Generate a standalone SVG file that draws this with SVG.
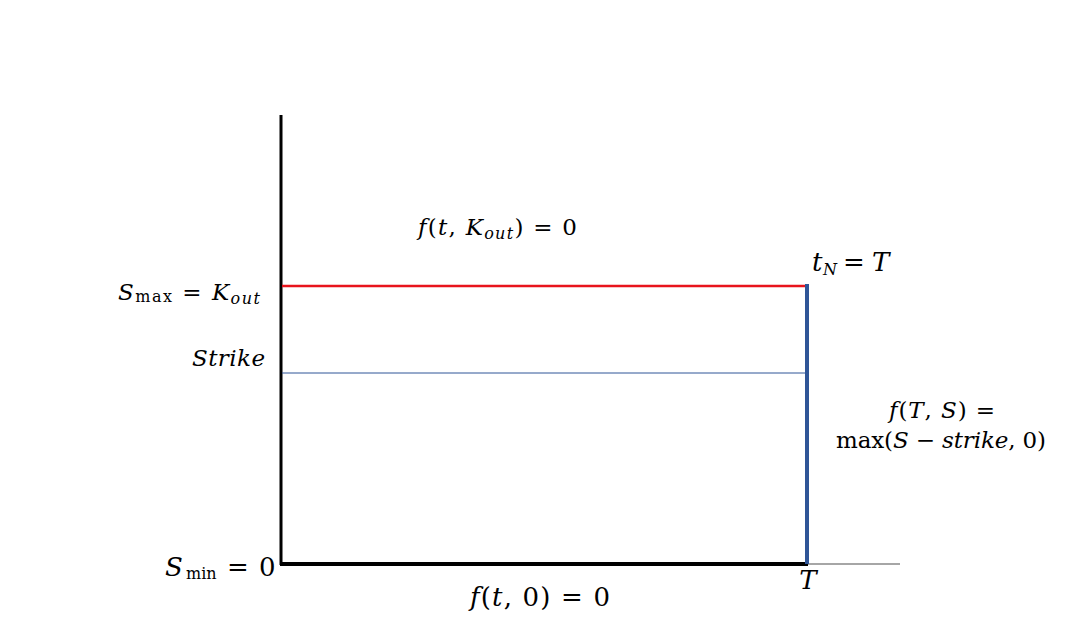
<svg xmlns="http://www.w3.org/2000/svg" width="1080" height="622" viewBox="0 0 1080 622">
<style>
text{font-family:"DejaVu Serif","Liberation Serif",serif;font-size:23px;fill:#000}
.i{font-style:italic}
.s{font-size:16px}
.b{font-size:26px}
</style>
<rect width="1080" height="622" fill="#fff"/>
<g id="connectors">
<line x1="281" y1="115" x2="281" y2="565" stroke="#000" stroke-width="3"/>
<line x1="808" y1="564" x2="900" y2="564" stroke="#888" stroke-width="1.5"/>
<line x1="280" y1="564" x2="808" y2="564" stroke="#000" stroke-width="4"/>
<line x1="282" y1="286" x2="808" y2="286" stroke="#e8141c" stroke-width="2.5"/>
<line x1="282" y1="373" x2="806" y2="373" stroke="#2f5597" stroke-width="1"/>
<line x1="807" y1="284" x2="807" y2="564" stroke="#2f5597" stroke-width="4"/>
</g>
<g id="smax"><text x="118" y="300" textLength="142" lengthAdjust="spacing"><tspan class="i">S</tspan><tspan class="s" dy="2">max</tspan><tspan dy="-2"> = </tspan><tspan class="i">K</tspan><tspan class="i s" dy="4">out</tspan></text></g>
<g id="strike"><text x="192" y="366" class="i" textLength="73" lengthAdjust="spacing">Strike</text></g>
<g id="top"><text x="418" y="235" textLength="159" lengthAdjust="spacing"><tspan class="i">f</tspan>(<tspan class="i">t</tspan>, <tspan class="i">K</tspan><tspan class="i s" dy="4">out</tspan><tspan dy="-4">) = 0</tspan></text></g>
<g id="tn"><text y="271" class="b"><tspan x="812" class="i">t</tspan><tspan x="823" class="i s" dy="4">N</tspan><tspan x="843" dy="-4">=</tspan><tspan x="872" class="i">T</tspan></text></g>
<g id="payoff"><text x="889" y="418" textLength="106" lengthAdjust="spacing"><tspan class="i">f</tspan>(<tspan class="i">T</tspan>, <tspan class="i">S</tspan>) =</text>
<text x="836" y="448" textLength="210" lengthAdjust="spacing">max(<tspan class="i">S</tspan> − <tspan class="i">strike</tspan>, 0)</text></g>
<g id="smin"><text y="576" class="b"><tspan x="165" class="i">S</tspan><tspan x="186" class="s" dy="3">min</tspan><tspan x="227" dy="-3">=</tspan><tspan x="259">0</tspan></text></g>
<g id="bottom"><text x="470" y="606" class="b" textLength="140" lengthAdjust="spacing"><tspan class="i">f</tspan>(<tspan class="i">t</tspan>, 0) = 0</text></g>
<g id="tlabel"><text x="808" y="589" text-anchor="middle" class="i b">T</text></g>
</svg>
